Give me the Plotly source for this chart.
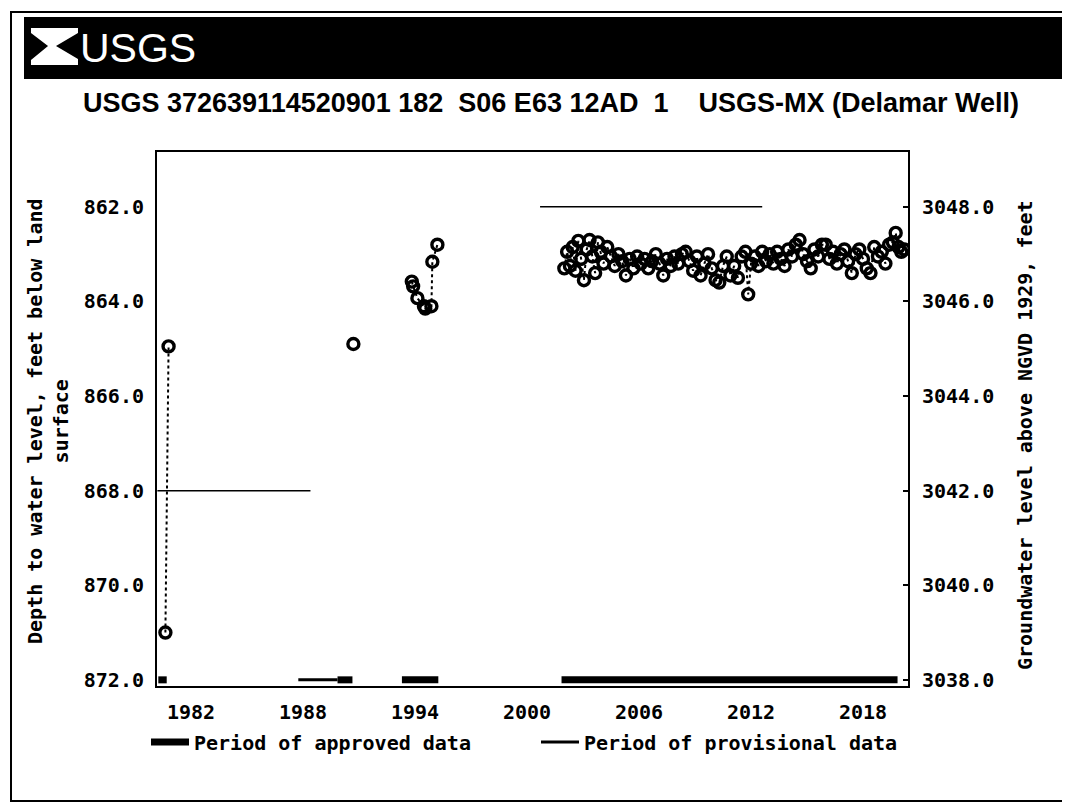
import plotly.graph_objects as go

# ---
# Groundwater levels, USGS 372639114520901 (Delamar Well)
# ---
LAND_SURFACE_ALT = 3910.0

# early sparse measurements (None breaks the dotted connector)
early_years = [1980.63, 1980.80, None, 1990.70, None,
               1993.83, 1993.90, 1994.13, 1994.48, 1994.55, 1994.88, 1994.93, 1995.20]
early_depths = [871.00, 864.95, None, 864.90, None,
                863.58, 863.68, 863.93, 864.10, 864.15, 864.10, 863.16, 862.80]

# recent, near-continuous measurements
recent_years = [2002.00, 2002.15, 2002.30, 2002.45, 2002.60, 2002.75, 2002.90, 2003.05, 2003.20, 2003.35,
                2003.50, 2003.65, 2003.80, 2003.95, 2004.10, 2004.30, 2004.50, 2004.70, 2004.90, 2005.10,
                2005.30, 2005.50, 2005.70, 2005.90, 2006.10, 2006.30, 2006.50, 2006.70, 2006.90, 2007.10,
                2007.30, 2007.50, 2007.70, 2007.90, 2008.10, 2008.30, 2008.50, 2008.70, 2008.90, 2009.10,
                2009.30, 2009.50, 2009.70, 2009.90, 2010.10, 2010.30, 2010.50, 2010.70, 2010.90, 2011.10,
                2011.30, 2011.50, 2011.70, 2011.85, 2012.00, 2012.20, 2012.40, 2012.60, 2012.80, 2013.00,
                2013.20, 2013.40, 2013.60, 2013.80, 2014.00, 2014.20, 2014.40, 2014.60, 2014.80, 2015.00,
                2015.20, 2015.40, 2015.60, 2015.80, 2016.00, 2016.20, 2016.40, 2016.60, 2016.80, 2017.00,
                2017.20, 2017.40, 2017.60, 2017.80, 2018.00, 2018.20, 2018.40, 2018.60, 2018.80, 2019.00,
                2019.20, 2019.40, 2019.60, 2019.75, 2019.90, 2020.05, 2020.20]
recent_depths = [863.30, 862.95, 863.25, 862.85, 863.35, 862.72, 863.10, 863.55, 862.90, 862.70,
                 863.05, 863.40, 862.75, 862.95, 863.20, 862.85, 863.05, 863.25, 863.00, 863.15,
                 863.45, 863.10, 863.30, 863.05, 863.20, 863.10, 863.30, 863.15, 863.00, 863.20,
                 863.45, 863.10, 863.25, 863.05, 863.20, 863.00, 862.95, 863.15, 863.35, 863.05,
                 863.45, 863.20, 863.00, 863.30, 863.55, 863.60, 863.25, 863.05, 863.45, 863.25,
                 863.50, 863.05, 862.95, 863.85, 863.20, 863.05, 863.25, 862.95, 863.15, 863.00,
                 863.20, 862.95, 863.10, 863.25, 862.90, 863.05, 862.80, 862.70, 863.00, 863.15,
                 863.30, 862.90, 863.05, 862.80, 862.80, 863.10, 862.95, 863.20, 863.00, 862.90,
                 863.15, 863.40, 863.00, 862.90, 863.10, 863.30, 863.40, 862.85, 863.05, 862.95,
                 863.20, 862.80, 862.75, 862.55, 862.85, 862.95, 862.90]

# faint horizontal reference lines left in the scan
ref_line_years = [[2000.70, 2012.60], [1980.20, 1988.40]]
ref_line_depths = [862.0, 868.0]

# data-period bars along the bottom of the plot
approved_periods = [(1980.25, 1980.70), (1989.85, 1990.65), (1993.30, 1995.25), (2001.85, 2019.85)]
provisional_periods = [(1987.75, 1989.85)]
period_depth = 872.0

year_ticks = [1982, 1988, 1994, 2000, 2006, 2012, 2018]
depth_ticks = [862, 864, 866, 868, 870, 872]
alt_ticks = [3038, 3040, 3042, 3044, 3046, 3048]

# page offset (body margin) and plot area in figure pixels
OFF = 8
W, H = 1070 - OFF, 806 - OFF
PL, PR, PT, PB = 157 - OFF, 908 - OFF, 152 - OFF, 686 - OFF


def px(x):
    return (x - OFF - PL) / (PR - PL)


def py(y):
    return (PB - (y - OFF)) / (PB - PT)


def pxpath(pts, close=False):
    s = "M " + " L ".join(f"{px(x):.4f},{py(y):.4f}" for x, y in pts)
    return s + (" Z" if close else "")


MONO = dict(family="DejaVu Sans Mono", size=20, color="black", weight="bold")

fig = go.Figure()

for yrs, d in zip(ref_line_years, ref_line_depths):
    fig.add_trace(go.Scatter(x=yrs, y=[d, d], mode="lines",
                             line=dict(color="black", width=1.5),
                             showlegend=False, hoverinfo="skip"))


def period_xy(periods):
    xs, ys = [], []
    for a, b in periods:
        xs += [a, b, None]
        ys += [period_depth, period_depth, None]
    return xs, ys


ax, ay = period_xy(approved_periods)
fig.add_trace(go.Scatter(x=ax, y=ay, mode="lines", name="Period of approved data",
                         line=dict(color="black", width=7), legend="legend"))
vx, vy = period_xy(provisional_periods)
fig.add_trace(go.Scatter(x=vx, y=vy, mode="lines", name="Period of provisional data",
                         line=dict(color="black", width=3), legend="legend2"))

obs_years = early_years + [None] + recent_years
obs_depths = early_depths + [None] + recent_depths
fig.add_trace(go.Scatter(x=obs_years, y=obs_depths, mode="lines+markers",
                         line=dict(color="black", width=2, dash="dot"),
                         marker=dict(symbol="circle-open", size=11, color="black",
                                     line=dict(width=3.4, color="black")),
                         showlegend=False))

# companion trace on the altitude axis so it is drawn
fig.add_trace(go.Scatter(x=recent_years, y=[LAND_SURFACE_ALT - d for d in recent_depths],
                         yaxis="y2", mode="markers", marker=dict(opacity=0),
                         showlegend=False, hoverinfo="skip"))

shapes = [
    # outer frame, open on the right where the scan is cut off
    dict(type="path", xref="paper", yref="paper",
         path=pxpath([(1075, 12), (11, 12), (11, 801), (1075, 801)]),
         line=dict(color="black", width=2), layer="below"),
    # header bar
    dict(type="rect", xref="paper", yref="paper", x0=px(24), x1=px(1075), y0=py(79), y1=py(17),
         line=dict(width=0), fillcolor="black", layer="below"),
    # logo mark
    dict(type="path", xref="paper", yref="paper",
         path=pxpath([(31, 28), (78, 28), (78, 33), (56, 46), (78, 59), (78, 65), (31, 65),
                      (31, 60), (48, 46), (31, 33)], close=True),
         fillcolor="white", line=dict(width=0)),
]

annotations = [
    dict(text="USGS", x=px(78), y=py(48), xref="paper", yref="paper", xanchor="left",
         yanchor="middle", showarrow=False,
         font=dict(family="Liberation Sans Narrow, Liberation Sans", size=41, color="white")),
    dict(text="USGS 372639114520901 182  S06 E63 12AD  1    USGS-MX (Delamar Well)",
         x=px(551), y=py(103), xref="paper", yref="paper", xanchor="center", yanchor="middle",
         showarrow=False,
         font=dict(family="Liberation Sans Narrow, Liberation Sans", size=27, color="black",
                   weight="bold")),
    dict(text="Depth to water level, feet below land<br>surface", textangle=-90,
         x=px(48), y=py(421), xref="paper", yref="paper", xanchor="center", yanchor="middle",
         showarrow=False, font=MONO),
    dict(text="Groundwater level above NGVD 1929, feet", textangle=-90,
         x=px(1025), y=py(435), xref="paper", yref="paper", xanchor="center", yanchor="middle",
         showarrow=False, font=MONO),
]

fig.update_layout(
    width=W, height=H,
    margin=dict(l=PL, r=W - PR, t=PT, b=H - PB),
    paper_bgcolor="white", plot_bgcolor="white",
    shapes=shapes, annotations=annotations,
    xaxis=dict(range=[1980.18, 2020.41], tickvals=year_ticks, ticktext=[str(y) for y in year_ticks],
               showgrid=False, zeroline=False, showline=True, linecolor="black", linewidth=2,
               mirror=True, ticks="", tickfont=MONO, ticklabelstandoff=7),
    yaxis=dict(range=[872.13, 860.84], tickvals=depth_ticks, tickformat=".1f",
               showgrid=False, zeroline=False, showline=True, linecolor="black", linewidth=2,
               mirror=True, ticks="", tickfont=MONO, ticklabelstandoff=7),
    yaxis2=dict(overlaying="y", side="right",
                range=[LAND_SURFACE_ALT - 872.13, LAND_SURFACE_ALT - 860.84],
                tickvals=alt_ticks, tickformat=".1f", showgrid=False, zeroline=False,
                showline=False, ticks="inside", ticklen=5, tickwidth=2, tickcolor="black",
                tickfont=MONO, ticklabelstandoff=13),
    legend=dict(x=px(146), y=py(742), xanchor="left", yanchor="middle", font=MONO,
                bgcolor="rgba(0,0,0,0)", itemwidth=38),
    legend2=dict(x=px(536), y=py(742), xanchor="left", yanchor="middle", font=MONO,
                 bgcolor="rgba(0,0,0,0)", itemwidth=38),
)

fig.write_html("out.html")
